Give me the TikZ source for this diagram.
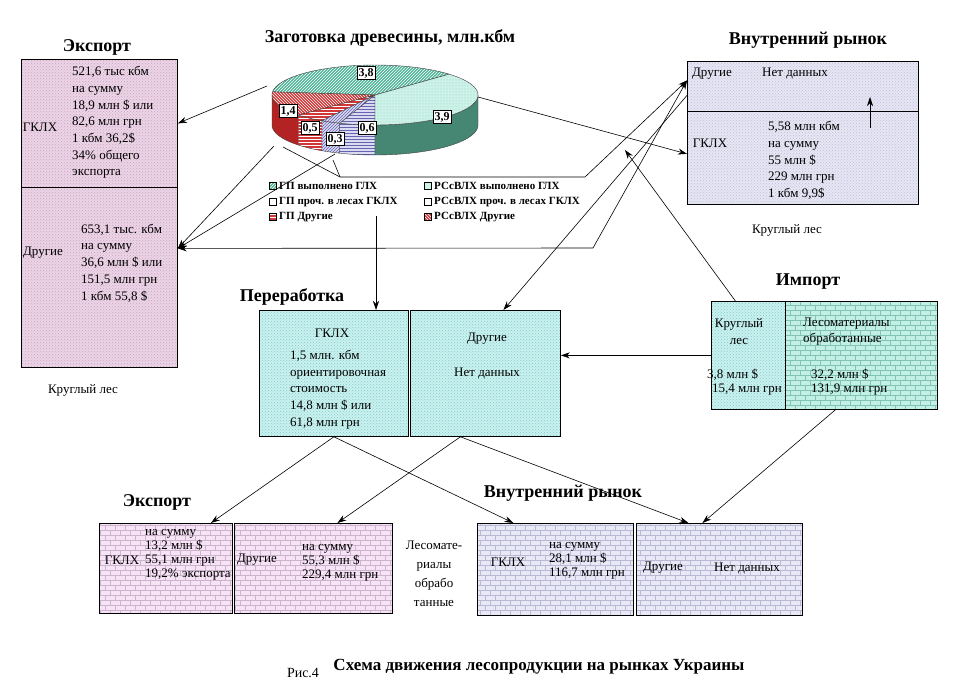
\documentclass[tikz,border=0pt]{standalone}
\usepackage{fontspec}
\setmainfont{Liberation Serif}
\usetikzlibrary{arrows.meta,patterns}
\pgfdeclarepatternformonly{mybricks}{\pgfpoint{-0.5pt}{-0.5pt}}{\pgfpoint{10.5pt}{10.5pt}}{\pgfpoint{10pt}{10pt}}{
  \pgfsetlinewidth{0.5pt}
  \pgfpathmoveto{\pgfpoint{0pt}{0pt}}\pgfpathlineto{\pgfpoint{10pt}{0pt}}
  \pgfpathmoveto{\pgfpoint{0pt}{5pt}}\pgfpathlineto{\pgfpoint{10pt}{5pt}}
  \pgfpathmoveto{\pgfpoint{0pt}{0pt}}\pgfpathlineto{\pgfpoint{0pt}{5pt}}
  \pgfpathmoveto{\pgfpoint{5pt}{5pt}}\pgfpathlineto{\pgfpoint{5pt}{10pt}}
  \pgfusepath{stroke}}
\definecolor{pinkA}{RGB}{236,212,230}
\definecolor{pinkAp}{RGB}{200,165,195}
\definecolor{lavA}{RGB}{230,230,244}
\definecolor{lavAp}{RGB}{190,190,215}
\definecolor{cyanA}{RGB}{200,242,240}
\definecolor{cyanAp}{RGB}{140,200,200}
\definecolor{cyanB}{RGB}{195,240,228}
\definecolor{cyanBp}{RGB}{130,195,180}
\definecolor{pinkB}{RGB}{246,228,246}
\definecolor{pinkBp}{RGB}{205,180,205}
\definecolor{lavB}{RGB}{232,232,246}
\definecolor{lavBp}{RGB}{185,185,212}
\definecolor{pTeal}{RGB}{80,180,150}
\definecolor{pCyan}{RGB}{205,242,232}
\definecolor{pCyanD}{RGB}{140,205,190}
\definecolor{pGreen}{RGB}{70,135,115}
\definecolor{pRed}{RGB}{210,55,55}
\definecolor{pDRed}{RGB}{180,35,35}
\definecolor{pLav}{RGB}{218,218,242}
\definecolor{pBlue}{RGB}{100,100,175}
\begin{document}
\begin{tikzpicture}[x=1pt,y=-1pt,
  box/.style={draw=black, line width=0.8pt, inner sep=0, anchor=north west},
  txt/.style={font=\fontsize{13}{16.7}\selectfont, inner sep=0, align=left},
  txs/.style={font=\fontsize{13}{14.2}\selectfont, inner sep=0, align=left, anchor=west},
  ttl/.style={font=\bfseries\fontsize{18}{21}\selectfont, inner sep=0},
  leg/.style={font=\bfseries\fontsize{11}{13}\selectfont, inner sep=0, anchor=west},
  icon/.style={draw=black, line width=0.5pt, minimum size=7, inner sep=0},
  plab/.style={draw=black, line width=0.4pt, fill=white, font=\bfseries\fontsize{12}{14}\selectfont, inner sep=1.5pt},
  arr/.style={-{Stealth[length=9pt,width=6pt]}, line width=0.6pt},
  ln/.style={line width=0.6pt},
  wedge/.style={draw=black!75, line width=0.4pt}]
\useasboundingbox (0,0) rectangle (953,695);
\fill[white] (0,0) rectangle (953,695);

% ---------- top export ----------
\node[ttl] (tExp) at (97,47) {Экспорт};
\node[box, preaction={fill=pinkA}, pattern=crosshatch dots, pattern color=pinkAp, minimum width=156, minimum height=128] (expG) at (21,59) {};
\node[box, preaction={fill=pinkA}, pattern=crosshatch dots, pattern color=pinkAp, minimum width=156, minimum height=180] (expD) at (21,187) {};
\node[txt] (expGl) at (40,127) {ГКЛХ};
\node[txt, anchor=west] (expGt) at (72,122.5) {521,6 тыс кбм\\на сумму\\18,9 млн \$ или\\82,6 млн грн\\1 кбм 36,2\$\\34\% общего\\ экспорта};
\node[txt] (expDl) at (43,253) {Другие};
\node[txt, anchor=west] (expDt) at (81,263) {653,1 тыс. кбм\\на сумму\\36,6 млн \$ или\\151,5 млн грн\\1 кбм 55,8 \$};
\node[txt] (expKr) at (83,390) {Круглый лес};

% ---------- top internal market ----------
\node[ttl] (tIn) at (808,40) {Внутренний рынок};
\node[box, preaction={fill=lavA}, pattern=crosshatch dots, pattern color=lavAp, minimum width=231, minimum height=50] (imD) at (687,61) {};
\node[box, preaction={fill=lavA}, pattern=crosshatch dots, pattern color=lavAp, minimum width=231, minimum height=93] (imG) at (687,111) {};
\node[txt] (imDl) at (712,74) {Другие};
\node[txt, anchor=west] (imDt) at (762,74) {Нет данных};
\node[txt] (imGl) at (710,143) {ГКЛХ};
\node[txt, anchor=west] (imGt) at (768,160.5) {5,58 млн кбм\\на сумму\\55 млн \$\\229 млн грн\\1 кбм 9,9\$};
\node[txt] (imKr) at (787,230) {Круглый лес};

% ---------- pie ----------
\node[ttl] (tPie) at (390,38) {Заготовка древесины, млн.кбм};
% sides
\path[wedge, fill=pDRed] plot[domain=180:222, samples=20, variable=\t] ({375+103*cos(\t)},{95-30*sin(\t)}) -- plot[domain=222:180, samples=20, variable=\t] ({375+103*cos(\t)},{125-30*sin(\t)}) -- cycle;
\path[wedge, preaction={fill=pRed}, pattern=horizontal lines, pattern color=white] plot[domain=222:239, samples=12, variable=\t] ({375+103*cos(\t)},{95-30*sin(\t)}) -- plot[domain=239:222, samples=12, variable=\t] ({375+103*cos(\t)},{125-30*sin(\t)}) -- cycle;
\path[wedge, preaction={fill=pLav}, pattern=north east lines, pattern color=pBlue] plot[domain=239:250, samples=10, variable=\t] ({375+103*cos(\t)},{95-30*sin(\t)}) -- plot[domain=250:239, samples=10, variable=\t] ({375+103*cos(\t)},{125-30*sin(\t)}) -- cycle;
\path[wedge, preaction={fill=pLav}, pattern=horizontal lines, pattern color=pBlue] plot[domain=250:270, samples=12, variable=\t] ({375+103*cos(\t)},{95-30*sin(\t)}) -- plot[domain=270:250, samples=12, variable=\t] ({375+103*cos(\t)},{125-30*sin(\t)}) -- cycle;
\path[wedge, fill=pGreen] plot[domain=270:360, samples=30, variable=\t] ({375+103*cos(\t)},{95-30*sin(\t)}) -- plot[domain=360:270, samples=30, variable=\t] ({375+103*cos(\t)},{125-30*sin(\t)}) -- cycle;
% tops
\path[wedge, preaction={fill=pTeal}, pattern=north east lines, pattern color=white] (375,95) -- plot[domain=44:174, samples=40, variable=\t] ({375+103*cos(\t)},{95-30*sin(\t)}) -- cycle;
\path[wedge, preaction={fill=pRed}, pattern=north west lines, pattern color=white] (375,95) -- plot[domain=174:222, samples=20, variable=\t] ({375+103*cos(\t)},{95-30*sin(\t)}) -- cycle;
\path[wedge, preaction={fill=pRed}, pattern=horizontal lines, pattern color=white] (375,95) -- plot[domain=222:239, samples=12, variable=\t] ({375+103*cos(\t)},{95-30*sin(\t)}) -- cycle;
\path[wedge, preaction={fill=pLav}, pattern=north east lines, pattern color=pBlue] (375,95) -- plot[domain=239:250, samples=10, variable=\t] ({375+103*cos(\t)},{95-30*sin(\t)}) -- cycle;
\path[wedge, preaction={fill=pLav}, pattern=horizontal lines, pattern color=pBlue] (375,95) -- plot[domain=250:270, samples=12, variable=\t] ({375+103*cos(\t)},{95-30*sin(\t)}) -- cycle;
\path[wedge, preaction={fill=pCyan}, pattern=dots, pattern color=pCyanD] (375,95) -- plot[domain=270:404, samples=40, variable=\t] ({375+103*cos(\t)},{95-30*sin(\t)}) -- cycle;
\node[plab] (v38) at (366,73) {3,8};
\node[plab] (v39) at (442,117) {3,9};
\node[plab] (v14) at (288,111) {1,4};
\node[plab] (v05) at (310,128) {0,5};
\node[plab] (v03) at (335,139) {0,3};
\node[plab] (v06) at (367,128) {0,6};

% legend
\node[icon, preaction={fill=pTeal}, pattern=north east lines, pattern color=white] (i1) at (273,186) {};
\node[leg] (g1) at (279,186) {ГП выполнено ГЛХ};
\node[icon, fill=white] (i2) at (273,202) {};
\node[leg] (g2) at (279,202) {ГП проч. в лесах ГКЛХ};
\node[icon, preaction={fill=pRed}, pattern=horizontal lines, pattern color=white] (i3) at (273,217) {};
\node[leg] (g3) at (279,217) {ГП Другие};
\node[icon, fill=pCyan] (i4) at (428,186) {};
\node[leg] (g4) at (434,186) {РСсВЛХ выполнено ГЛХ};
\node[icon, fill=white] (i5) at (428,202) {};
\node[leg] (g5) at (434,202) {РСсВЛХ проч. в лесах ГКЛХ};
\node[icon, preaction={fill=pRed}, pattern=north west lines, pattern color=white] (i6) at (428,217) {};
\node[leg] (g6) at (434,217) {РСсВЛХ Другие};

% ---------- processing ----------
\node[ttl] (tPr) at (292,297) {Переработка};
\node[box, preaction={fill=cyanA}, pattern=crosshatch dots, pattern color=cyanAp, minimum width=149, minimum height=126] (prG) at (259,310) {};
\node[box, preaction={fill=cyanA}, pattern=crosshatch dots, pattern color=cyanAp, minimum width=150, minimum height=126] (prD) at (410,310) {};
\node[txt] (prGl) at (332,333) {ГКЛХ};
\node[txt, anchor=west] (prGt) at (290,389.5) {1,5 млн. кбм\\ориентировочная\\стоимость\\14,8 млн \$ или\\61,8 млн грн};
\node[txt] (prDl) at (487,339) {Другие};
\node[txt] (prDt) at (487,373) {Нет данных};

% ---------- import ----------
\node[ttl] (tIm) at (808,282) {Импорт};
\node[box, preaction={fill=cyanA}, pattern=crosshatch dots, pattern color=cyanAp, minimum width=74, minimum height=108] (ipK) at (711,301) {};
\node[box, preaction={fill=cyanB}, pattern=mybricks, pattern color=cyanBp, minimum width=152, minimum height=108] (ipL) at (785,301) {};
\node[txt, align=center] (ipKt) at (739,331.5) {Круглый\\лес};
\node[txt, anchor=west] (ipKv) at (707,375) {3,8 млн \$};
\node[txt, anchor=west] (ipKw) at (712,390) {15,4 млн грн};
\node[txt, anchor=west] (ipLt) at (803,331.5) {Лесоматериалы\\обработанные};
\node[txt, anchor=west] (ipLv) at (811,375) {32,2 млн \$};
\node[txt, anchor=west] (ipLw) at (811,390) {131,9 млн грн};

% ---------- bottom export ----------
\node[ttl] (tBe) at (157,502) {Экспорт};
\node[box, preaction={fill=pinkB}, pattern=mybricks, pattern color=pinkBp, minimum width=133, minimum height=90] (beG) at (99,523) {};
\node[box, preaction={fill=pinkB}, pattern=mybricks, pattern color=pinkBp, minimum width=158, minimum height=90] (beD) at (234,523) {};
\node[txt] (beGl) at (122,560) {ГКЛХ};
\node[txs] (beGt) at (145,555) {на сумму\\13,2 млн \$\\55,1 млн грн\\19,2\% экспорта};
\node[txt] (beDl) at (257,560) {Другие};
\node[txs] (beDt) at (302,563) {на сумму\\55,3 млн \$\\229,4 млн грн};
\node[txt, align=center, font=\fontsize{13}{19.2}\selectfont] (lesm) at (434,574) {Лесомате-\\риалы\\обрабо\\танные};

% ---------- bottom internal ----------
\node[ttl] (tBi) at (563,493) {Внутренний рынок};
\node[box, preaction={fill=lavB}, pattern=mybricks, pattern color=lavBp, minimum width=156, minimum height=92] (biG) at (477,523) {};
\node[box, preaction={fill=lavB}, pattern=mybricks, pattern color=lavBp, minimum width=166, minimum height=92] (biD) at (636,523) {};
\node[txt] (biGl) at (508,562) {ГКЛХ};
\node[txs] (biGt) at (549,561) {на сумму\\28,1 млн \$\\116,7 млн грн};
\node[txt] (biDl) at (663,568) {Другие};
\node[txt] (biDt) at (747,568) {Нет данных};

% ---------- caption ----------
\node[txt, font=\fontsize{14}{16}\selectfont] (cap1) at (303,673) {Рис.4};
\node[ttl, font=\bfseries\fontsize{17}{19}\selectfont] (cap2) at (539,667) {Схема движения лесопродукции на рынках Украины};

% ---------- connectors ----------
\coordinate (pl) at (267,86);
\draw[arr] (pl) -- (expG.east);
\coordinate (ea) at ([yshift=29pt]expD.east);
\coordinate (pd1) at (274,146);
\coordinate (pd2) at (335,154);
\draw[arr] (pd1) -- (ea);
\draw[arr] (pd2) -- (ea);
\coordinate (jb) at (593,248);
\coordinate (imDin) at ([yshift=6pt]imD.west);
\draw[arr] (jb) -- (ea);
\draw[arr] (jb) -- (imDin);
\coordinate (pa) at (283,147);
\coordinate (pb) at (333,160);
\coordinate (ca) at (340,177);
\coordinate (cb) at (585,177);
\draw[ln] (pa) -- (ca);
\draw[ln] (pb) -- (ca);
\draw[arr] (ca) -- (cb) -- (imDin);
\coordinate (pr) at (478,97);
\draw[arr] (pr) -- ([yshift=4pt]imG.west);
\coordinate (lg) at (376,216);
\draw[arr] (lg) -- (lg |- prG.north);
\draw[arr] ([yshift=-9pt]imD.west) -- ([xshift=18pt]prD.north);
\coordinate (fe) at (625,150);
\draw[arr] ([xshift=-13pt]ipK.north) -- (fe);
\draw[arr] (ipK.west) -- (ipK.west -| prD.east);
\draw[arr] (prG.south) -- ([xshift=45pt]beG.north);
\draw[arr] (prG.south) -- ([xshift=-42pt]biG.north);
\draw[arr] ([xshift=-25pt]prD.south) -- ([xshift=24pt]beD.north);
\draw[arr] ([xshift=-25pt]prD.south) -- ([xshift=-31pt]biD.north);
\draw[arr] ([xshift=-26pt]ipL.south) -- ([xshift=-17pt]biD.north);
\coordinate (sa1) at (870,128);
\coordinate (sa2) at (870,97);
\draw[arr] (sa1) -- (sa2);
\end{tikzpicture}
\end{document}
